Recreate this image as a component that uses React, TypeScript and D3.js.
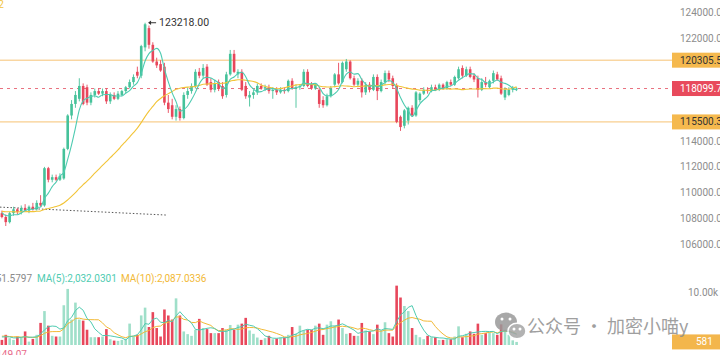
import React, { useEffect, useRef } from 'react';
import * as d3 from 'd3';

// open, high, low, close
type Candle = [number, number, number, number];

const candles: Candle[] = [
  [108400, 108600, 108000, 108100], [108100, 108300, 107400, 107700], [107700, 108500, 107600, 108400],
  [108400, 108900, 108200, 108700], [108700, 108800, 108300, 108500], [108500, 109000, 108300, 108800],
  [108800, 109100, 108500, 108600], [108600, 109000, 108400, 108900], [108900, 109200, 108600, 108700],
  [108700, 109400, 108600, 109200], [109200, 109800, 108900, 109000], [109000, 112000, 108900, 111900],
  [111900, 112000, 110800, 111000], [111000, 111400, 110800, 111200], [111200, 111400, 110900, 111000],
  [111000, 111500, 110900, 111300], [111100, 113500, 111000, 113400], [113400, 116100, 113300, 116000],
  [116000, 117200, 115700, 116900], [116900, 117900, 116600, 117600], [117300, 118900, 117100, 118300],
  [118300, 118500, 116800, 116900], [118200, 118400, 116800, 117000], [117000, 117800, 116800, 117600],
  [117600, 118100, 117400, 117900], [117900, 118100, 117600, 117700], [117700, 118100, 117500, 117900],
  [117900, 118100, 116900, 117100], [117100, 117800, 116900, 117600], [117600, 117800, 117200, 117300],
  [117300, 117900, 117200, 117700], [117600, 118000, 117500, 117900], [117900, 118300, 117700, 118200],
  [118200, 118800, 118100, 118600], [118600, 119200, 118400, 119000], [119400, 119800, 118900, 119100],
  [119100, 121500, 118900, 121400], [121300, 123218, 121000, 123100], [122800, 123000, 121200, 121500],
  [121500, 121700, 120100, 120200], [120200, 120500, 119700, 119900], [120000, 120300, 119400, 119500],
  [119800, 120100, 116800, 117000], [117000, 117600, 116200, 116500], [116800, 117300, 115700, 115900],
  [115900, 116800, 115600, 116500], [116500, 116700, 115600, 115800], [115800, 117800, 115700, 117600],
  [117600, 118200, 117300, 117900], [117900, 118500, 117700, 118300], [118300, 119600, 118100, 119400],
  [119400, 119700, 118900, 119100], [119100, 120000, 118900, 119700], [119800, 120000, 118300, 118400],
  [118600, 118900, 117800, 118000], [118000, 118800, 117800, 118500], [118600, 118800, 117900, 118100],
  [118300, 118600, 117300, 117500], [117600, 119400, 117400, 119200], [119200, 121100, 119100, 120800],
  [120800, 121100, 119300, 119400], [119200, 119600, 118900, 119400], [119400, 119600, 117900, 118000],
  [118300, 118600, 117300, 117500], [117400, 117900, 116700, 117600], [117600, 118000, 117300, 117800],
  [117800, 118500, 117600, 118300], [118300, 118500, 118000, 118100], [118100, 118400, 117900, 118200],
  [118200, 118400, 117700, 117900], [117900, 118200, 117300, 118000], [118000, 118200, 117600, 117800],
  [117800, 118200, 117700, 118000], [118000, 118200, 117700, 117900], [117900, 118800, 117800, 118700],
  [118700, 118900, 118000, 118100], [118100, 118400, 116600, 118200], [118200, 118400, 118000, 118300],
  [118300, 119600, 118200, 119400], [119400, 119600, 118200, 118300], [118400, 118600, 118000, 118100],
  [118100, 118500, 118000, 118400], [118000, 118200, 116600, 116900], [117200, 117500, 116600, 116800],
  [116800, 117700, 116700, 117500], [117500, 118300, 117400, 118100], [118400, 119300, 118200, 119200],
  [119200, 120100, 118400, 118500], [118600, 120200, 118500, 120100], [119600, 120400, 119400, 120200],
  [120200, 120300, 118800, 118900], [118900, 119100, 118300, 118400], [118400, 118900, 118200, 118700],
  [118700, 118900, 117400, 117800], [117800, 118600, 117600, 118400], [118400, 118600, 117800, 118000],
  [118000, 119200, 117900, 119000], [119000, 119200, 117200, 117900], [117900, 118800, 117800, 118600],
  [118600, 119500, 118400, 119300], [119300, 119500, 118600, 118800], [118900, 119100, 118100, 118300],
  [118300, 118500, 115400, 115500], [115900, 116000, 114800, 115100], [115200, 116500, 115000, 116400],
  [115600, 116700, 115300, 116600], [116600, 116800, 115900, 116000], [116000, 117900, 115900, 117800],
  [117200, 117800, 117000, 117700], [117700, 118200, 117600, 118000], [118000, 118200, 117700, 117900],
  [117900, 118400, 117800, 118200], [118200, 118400, 117900, 118000], [118000, 118500, 117900, 118400],
  [118400, 118500, 118000, 118100], [118100, 118700, 118000, 118600], [118600, 118800, 118300, 118400],
  [118400, 119100, 118300, 119000], [118900, 119800, 118800, 119600], [119700, 119900, 118900, 119100],
  [119100, 119800, 119000, 119600], [119600, 119800, 118900, 119000], [119100, 119300, 118600, 118800],
  [118900, 119100, 117400, 118000], [118000, 118900, 117900, 118600], [118600, 119000, 118200, 118400],
  [118200, 118800, 118100, 118700], [118700, 119500, 118500, 119300], [119200, 119400, 118700, 118800],
  [118900, 119100, 117600, 117700], [117400, 118200, 117200, 118000], [117600, 118200, 117500, 118000],
  [118000, 118300, 117800, 118100], [118050, 118200, 117900, 118099.7],
];

// closes / volumes of the candles just left of the visible window (needed by the moving averages)
const priorCloses = [
  108600, 108400, 108700, 108900, 108500, 108300, 108600, 108800, 108400, 108200,
  108500, 108700, 108900, 108600, 108300, 108400, 108700, 108500, 108800, 108600,
  108300, 108500, 108700, 108400, 108600, 108800, 108500, 108300, 108500,
];
const priorVolumes = [1800, 2100, 1500, 1300, 2400, 1700, 1400, 1900, 1600];

const volumes = [
  960, 1920, 1280, 960, 1600, 1470, 2560, 640, 1150, 1920, 4170,
  6400, 3650, 1730, 1600, 1600, 7500, 10580, 4800, 8000, 4800,
  4600, 2880, 1470, 1470, 1470, 1600, 3000, 1090, 830, 770,
  960, 1150, 4040, 1600, 1920, 5580, 7050, 3400, 6200, 3200,
  1600, 6700, 5570, 4800, 8800, 5570, 2560, 2050, 1730, 2880,
  4930, 3200, 3000, 2240, 2240, 2240, 3200, 2880, 3780, 2880,
  3840, 4030, 5120, 2750, 2110, 1410, 960, 1280, 1730, 1090,
  1220, 1410, 1410, 1920, 3390, 2110, 3650, 2750, 2880, 2880,
  3650, 4030, 1920, 3840, 4480, 3650, 4800, 3200, 2110, 2240,
  1730, 1730, 4160, 2750, 2560, 2050, 3840, 2750, 4290, 2240,
  1600, 11200, 8960, 7360, 6400, 3200, 1920, 1470, 1090, 1730,
  1470, 1470, 960, 960, 1090, 1090, 1600, 3520, 1470, 2110,
  2560, 2110, 4030, 1920, 2240, 2390, 2240, 1920, 3900, 2880,
  1920, 880, 581,
];

const priceTicks = [124000, 122000, 120000, 118000, 116000, 114000, 112000, 110000, 108000, 106000];
const volumeTicks = [10000];
const resistance = 120305.5;
const support = 115500.3;
const lastPrice = 118099.7;
const lastVolume = 581;
const peakPrice = 123218.0;
const peakIndex = 37;
const trendLine = [
  { i: -0.5, p: 108870 },
  { i: 42.7, p: 108250 },
];
const volumeLegend = [
  { text: 'VOL:551.5797', color: '#8a8a8a' },
  { text: 'MA(5):2,032.0301', color: '#4ecbb1' },
  { text: 'MA(10):2,087.0336', color: '#f2b936' },
];

const GREEN = '#45c29a';
const RED = '#e8475b';
const FONT = 'Roboto, "Noto Sans", sans-serif';

// trailing moving average, first `skip` values are warm-up only
function movingAvg(vals: number[], n: number, skip: number) {
  return vals.map((_, i) => d3.mean(vals.slice(Math.max(0, i - n + 1), i + 1)) as number).slice(skip);
}

export default function App() {
  const svgRef = useRef<SVGSVGElement>(null);
  const width = 720;
  const height = 355;

  useEffect(() => {
    const svg = d3.select(svgRef.current);
    svg.selectAll('*').remove();

    const x = d3.scaleLinear().domain([0, candles.length - 1]).range([1.9, 516.6]);
    const y = d3.scaleLinear().domain([106000, 124000]).range([244, 12.7]);
    const yv = d3.scaleLinear().domain([0, 10000]).range([345, 292]);
    const bw = 2.6;
    const plotRight = 672;

    svg.append('rect').attr('width', width).attr('height', height).attr('fill', '#ffffff');

    // price axis labels (right), the ones under a value box are hidden
    const boxed = [resistance, lastPrice, support];
    svg.append('g')
      .selectAll('text')
      .data(priceTicks.filter(t => boxed.every(b => Math.abs(y(t) - y(b)) > 9)))
      .join('text')
      .attr('x', 680)
      .attr('y', d => y(d))
      .attr('dy', '0.35em')
      .attr('fill', '#8d8d8d')
      .style('font-family', FONT)
      .style('font-size', '10px')
      .text(d => d3.format('.2f')(d));

    svg.append('g')
      .selectAll('text')
      .data(volumeTicks)
      .join('text')
      .attr('x', 688)
      .attr('y', d => yv(d))
      .attr('dy', '0.35em')
      .attr('fill', '#8d8d8d')
      .style('font-family', FONT)
      .style('font-size', '10px')
      .text(d => (d / 1000).toFixed(2) + 'k');

    // level lines
    [resistance, support].forEach(p => {
      svg.append('line')
        .attr('x1', 0).attr('x2', plotRight)
        .attr('y1', y(p)).attr('y2', y(p))
        .attr('stroke', '#f6c374')
        .attr('stroke-width', 1);
    });
    svg.append('line')
      .attr('x1', 0).attr('x2', plotRight)
      .attr('y1', y(lastPrice)).attr('y2', y(lastPrice))
      .attr('stroke', '#e9707e')
      .attr('stroke-width', 1)
      .attr('stroke-dasharray', '3,4');

    // trend line
    svg.append('path')
      .datum(trendLine)
      .attr('fill', 'none')
      .attr('stroke', '#555')
      .attr('stroke-width', 1)
      .attr('stroke-dasharray', '1.5,2')
      .attr('d', d3.line<{ i: number; p: number }>().x(d => x(d.i)).y(d => y(d.p)));

    // candles
    const cg = svg.append('g');
    candles.forEach(([o, h, l, c], i) => {
      const col = c >= o ? GREEN : RED;
      cg.append('line')
        .attr('x1', x(i)).attr('x2', x(i))
        .attr('y1', y(h)).attr('y2', y(l))
        .attr('stroke', col)
        .attr('stroke-width', 0.9);
      const top = y(Math.max(o, c));
      cg.append('rect')
        .attr('x', x(i) - bw / 2)
        .attr('y', top)
        .attr('width', bw)
        .attr('height', Math.max(1, y(Math.min(o, c)) - top))
        .attr('fill', col);
    });

    // price MAs
    const closes = priorCloses.concat(candles.map(d => d[3]));
    const ma5 = movingAvg(closes, 5, priorCloses.length);
    const ma30 = movingAvg(closes, 30, priorCloses.length);
    const pLine = d3.line<number>().x((_, i) => x(i)).y(d => y(d)).curve(d3.curveMonotoneX);
    svg.append('path').datum(ma30).attr('fill', 'none').attr('stroke', '#f2c438').attr('stroke-width', 1.1).attr('d', pLine);
    svg.append('path').datum(ma5).attr('fill', 'none').attr('stroke', '#4ecbb1').attr('stroke-width', 1.1).attr('d', pLine);

    // peak label with arrow
    const px = x(peakIndex) + 3;
    const py = y(peakPrice);
    svg.append('path')
      .attr('d', `M${px + 8},${py} L${px + 1.5},${py}`)
      .attr('stroke', '#333')
      .attr('stroke-width', 1);
    svg.append('path')
      .attr('d', `M${px},${py} L${px + 3},${py - 2.2} L${px + 3},${py + 2.2} Z`)
      .attr('fill', '#333');
    svg.append('text')
      .attr('x', px + 11)
      .attr('y', py)
      .attr('dy', '0.35em')
      .attr('fill', '#333')
      .style('font-family', FONT)
      .style('font-size', '10.5px')
      .text(d3.format('.2f')(peakPrice));

    // top legend fragment
    svg.append('text')
      .attr('x', 4).attr('y', 8)
      .attr('text-anchor', 'end')
      .attr('fill', '#f2c438')
      .style('font-family', FONT)
      .style('font-size', '10px')
      .text('MA(30):118,452');

    // volume bars
    const vg = svg.append('g');
    volumes.forEach((v, i) => {
      const [o, , , c] = candles[i];
      const up = c >= o;
      vg.append('rect')
        .attr('x', x(i) - bw / 2)
        .attr('y', yv(v))
        .attr('width', bw)
        .attr('height', yv(0) - yv(v))
        .attr('fill', up ? '#9fdfc9' : RED);
    });
    const allVol = priorVolumes.concat(volumes);
    const vma5 = movingAvg(allVol, 5, priorVolumes.length);
    const vma10 = movingAvg(allVol, 10, priorVolumes.length);
    const vLine = d3.line<number>().x((_, i) => x(i)).y(d => yv(d));
    svg.append('path').datum(vma10).attr('fill', 'none').attr('stroke', '#f2b936').attr('stroke-width', 1).attr('d', vLine);
    svg.append('path').datum(vma5).attr('fill', 'none').attr('stroke', '#4ecbb1').attr('stroke-width', 1).attr('d', vLine);

    // volume legend
    const starts = [32, 37, 121];
    volumeLegend.forEach((d, k) => {
      svg.append('text')
        .attr('x', starts[k])
        .attr('y', 282)
        .attr('text-anchor', k === 0 ? 'end' : 'start')
        .attr('fill', d.color)
        .style('font-family', FONT)
        .style('font-size', '10px')
        .text(d.text);
    });

    svg.append('text')
      .attr('x', 27).attr('y', 358)
      .attr('text-anchor', 'end')
      .attr('fill', '#e86a8a')
      .style('font-family', FONT)
      .style('font-size', '10px')
      .text('-149.07');

    // value boxes on the right
    const boxes = [
      { fill: '#f5b94e', color: '#333', label: d3.format('.1f')(resistance), yy: y(resistance), tx: 680 },
      { fill: '#e84a5c', color: '#fff', label: d3.format('.1f')(lastPrice), yy: y(lastPrice), tx: 680 },
      { fill: '#f5b94e', color: '#333', label: d3.format('.1f')(support), yy: y(support), tx: 680 },
      { fill: '#f3b64c', color: '#fff', label: String(lastVolume), yy: yv(lastVolume), tx: 696 },
    ];
    boxes.forEach(b => {
      svg.append('rect')
        .attr('x', 672).attr('y', b.yy - 7.5)
        .attr('width', 48).attr('height', 15)
        .attr('fill', b.fill);
      svg.append('text')
        .attr('x', b.tx)
        .attr('y', b.yy)
        .attr('dy', '0.35em')
        .attr('fill', b.color)
        .style('font-family', FONT)
        .style('font-size', '10px')
        .text(b.label);
    });

    // watermark
    const wm = svg.append('g').attr('opacity', 0.85);
    wm.append('ellipse').attr('cx', 506).attr('cy', 322).attr('rx', 11).attr('ry', 9.5).attr('fill', '#9a9a9a');
    wm.append('ellipse').attr('cx', 517).attr('cy', 331).attr('rx', 9).attr('ry', 7.8)
      .attr('fill', '#a5a5a5').attr('stroke', '#fff').attr('stroke-width', 1.5);
    [[502, 319], [510, 319], [514, 329], [520, 329]].forEach(([cx, cy]) => {
      wm.append('circle').attr('cx', cx).attr('cy', cy).attr('r', 1.5).attr('fill', '#fff');
    });
    wm.append('text')
      .attr('x', 527).attr('y', 327)
      .attr('dy', '0.35em')
      .attr('fill', '#8f8f8f')
      .style('font-family', '"Noto Sans CJK SC", sans-serif')
      .style('font-size', '18px')
      .text('公众号 · 加密小喵y');
  }, []);

  return (
    <div>
      <style>{'body{margin:0}'}</style>
      <svg ref={svgRef} width={width} height={height} style={{ display: 'block' }} />
    </div>
  );
}
